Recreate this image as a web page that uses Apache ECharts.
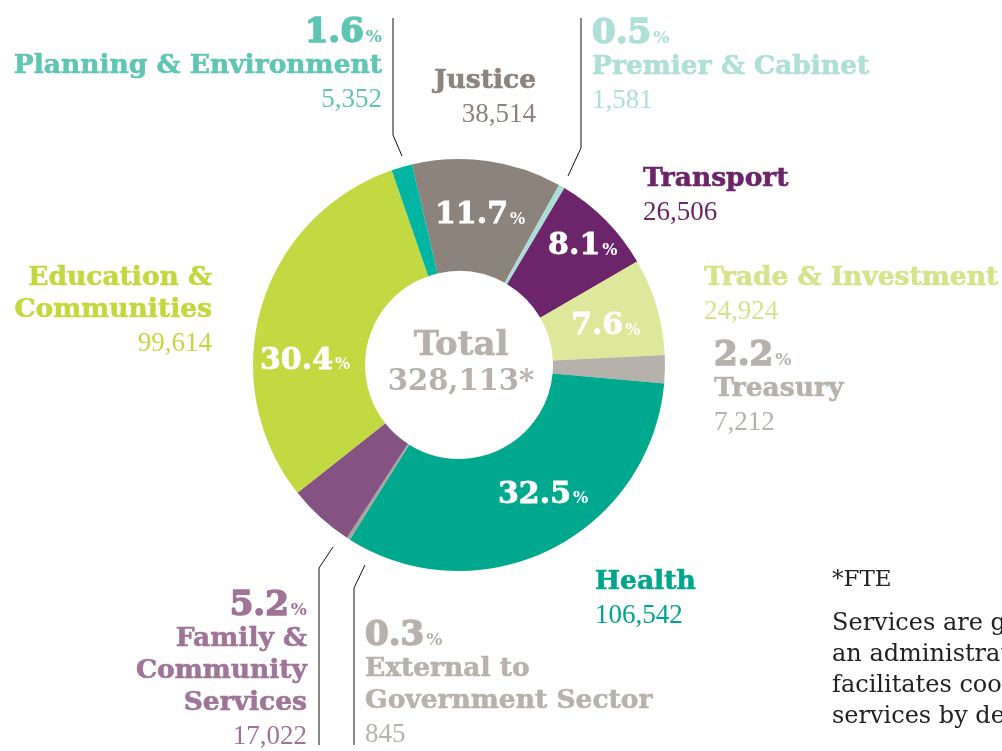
<!DOCTYPE html>
<html>
<head>
<meta charset="utf-8">
<script src="https://cdn.jsdelivr.net/npm/echarts@6/dist/echarts.min.js"></script>
<style>
  html, body { margin: 0; padding: 0; background: #fff; }
  #main { width: 1002px; height: 751px; }
</style>
</head>
<body>
<div id="main"></div>
<script>
// data, clockwise from the top (Justice)
var cluster = ['Justice', 'Premier & Cabinet', 'Transport', 'Trade & Investment', 'Treasury', 'Health',
  'External to Government Sector', 'Family & Community Services', 'Education & Communities', 'Planning & Environment'];
var clusterLabel = ['Justice', 'Premier & Cabinet', 'Transport', 'Trade & Investment', 'Treasury', 'Health',
  'External to\nGovernment Sector', 'Family &\nCommunity\nServices', 'Education &\nCommunities', 'Planning & Environment'];
var fte = [38514, 1581, 26506, 24924, 7212, 106542, 845, 17022, 99614, 5352];
var totalFte = 328113;
// big slices carry their percentage inside the ring
var pctInside = [true, false, true, true, false, true, false, false, true, false];

var sliceColor = ['#8b837c', '#a9ddd5', '#6c256b', '#dde89a', '#b7b1ac', '#00a88e', '#a9a39d', '#845381', '#c3d942', '#00b5a2'];
var textColor = ['#8c847c', '#aee0d8', '#6c256b', '#d5e48a', '#b8b2ac', '#00a68c', '#b8b2ac', '#a07399', '#c3d83f', '#5fc5b5'];

// label placement (outer labels: x, top y, align) and nudges for inner labels
var outerPos = [
  [536, 65, 'right'], [592, 18, 'left'], [643, 163, 'left'], [704, 262, 'left'], [714, 340, 'left'],
  [595, 566, 'left'], [365, 620, 'left'], [307, 590, 'right'], [212, 262, 'right'], [382, 17, 'right']
];
var innerNudge = [[0, 2], null, [15, -11], [0, 5], null, [16, -7], null, null, [-7, 39], null];

var HEAD = '"DejaVu Serif", serif';
var BODY = '"Liberation Serif", serif';

function pct(v) {
  var sum = fte.reduce(function(a, b) { return a + b; }, 0);
  return (v / sum * 100).toFixed(1);
}
function fmt(n) {
  return n.toLocaleString('en-US');
}

var chart = echarts.init(document.getElementById('main'));

var pieData = fte.map(function(v, i) {
  return { name: cluster[i], value: v, itemStyle: { color: sliceColor[i] } };
});

function richFor(i) {
  var c = textColor[i];
  return {
    p: { fontFamily: HEAD, fontWeight: 'bold', fontSize: 34, color: c, lineHeight: 33, textBorderColor: c, textBorderWidth: 1.6 },
    q: { fontFamily: HEAD, fontWeight: 'bold', fontSize: 17, color: c, lineHeight: 33, padding: [8, 0, 0, 2] },
    n: { fontFamily: HEAD, fontWeight: 'bold', fontSize: 26.5, color: c, lineHeight: 32, textBorderColor: c, textBorderWidth: 0.6 },
    v: { fontFamily: BODY, fontSize: 27, color: c, lineHeight: 35 }
  };
}

var outerSeries = fte.map(function(v, i) {
  return {
    name: cluster[i], value: v,
    itemStyle: { color: 'transparent' },
    label: {
      show: true,
      formatter: (pctInside[i] ? '' : '{p|' + pct(v) + '}{q|%}\n') +
        clusterLabel[i].split('\n').map(function(s) { return '{n|' + s + '}'; }).join('\n') +
        '\n{v|' + fmt(v) + '}',
      rich: richFor(i)
    }
  };
});

var option = {
  animation: false,
  series: [
    {
      type: 'pie',
      center: [459, 365],
      radius: [94, 206],
      startAngle: 103.2,
      clockwise: true,
      avoidLabelOverlap: false,
      silent: true,
      data: pieData,
      label: {
        show: true,
        position: 'inside',
        formatter: function(p) {
          return pctInside[p.dataIndex] ? '{p|' + pct(p.value) + '}{q|%}' : '';
        },
        rich: {
          p: { fontFamily: HEAD, fontWeight: 'bold', fontSize: 30, color: '#fff', textBorderColor: '#fff', textBorderWidth: 0.8 },
          q: { fontFamily: HEAD, fontWeight: 'bold', fontSize: 16, color: '#fff', padding: [8, 0, 0, 2] }
        }
      },
      labelLine: { show: false },
      labelLayout: function(p) {
        var d = innerNudge[p.dataIndex];
        return d ? { dx: d[0], dy: d[1] } : {};
      }
    },
    {
      type: 'pie',
      center: [459, 365],
      radius: [94, 206],
      startAngle: 103.2,
      silent: true,
      avoidLabelOverlap: false,
      data: outerSeries,
      labelLine: { show: false },
      labelLayout: function(p) {
        var o = outerPos[p.dataIndex];
        return { x: o[0], y: o[1], align: o[2], verticalAlign: 'top' };
      }
    }
  ],
  graphic: [
    // leader lines
    { type: 'polyline', shape: { points: [[393, 18], [393, 135], [402, 156]] }, style: { stroke: '#111', lineWidth: 1, fill: null } },
    { type: 'polyline', shape: { points: [[581, 18], [581, 148], [568, 176]] }, style: { stroke: '#111', lineWidth: 1, fill: null } },
    { type: 'polyline', shape: { points: [[333, 547], [319, 568], [319, 745]] }, style: { stroke: '#111', lineWidth: 1, fill: null } },
    { type: 'polyline', shape: { points: [[365, 565], [354, 588], [354, 745]] }, style: { stroke: '#111', lineWidth: 1, fill: null } },
    // total in the hole
    { type: 'text', x: 461, y: 346, style: { text: 'Total', font: 'bold 34px ' + HEAD, fill: '#b7b1ac', align: 'center', verticalAlign: 'middle', stroke: '#b7b1ac', lineWidth: 0.6 } },
    { type: 'text', x: 461, y: 382, style: { text: fmt(totalFte) + '*', font: 'bold 29px ' + HEAD, fill: '#b7b1ac', align: 'center', verticalAlign: 'middle' } },
    // footnote
    { type: 'text', x: 832, y: 580, style: { text: '*FTE', font: '23px ' + HEAD, fill: '#222', verticalAlign: 'middle' } },
    { type: 'text', x: 832, y: 608, style: {
      text: 'Services are grouped into clusters,\nan administrative arrangement that\nfacilitates coordination of related\nservices by departments.',
      font: '24px ' + HEAD, fill: '#222', lineHeight: 31, verticalAlign: 'top' } }
  ]
};

chart.setOption(option);
</script>
</body>
</html>
